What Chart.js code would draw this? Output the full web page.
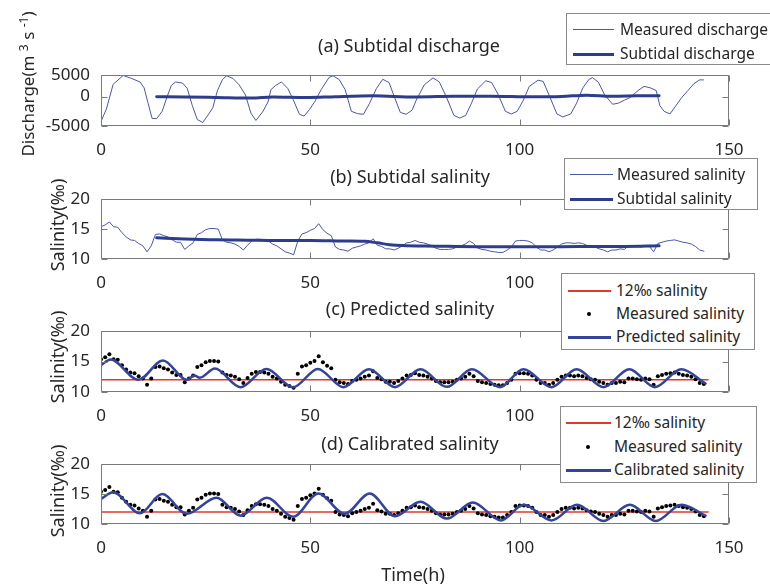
<!DOCTYPE html>
<html><head><meta charset="utf-8">
<script src="https://cdn.jsdelivr.net/npm/chart.js@4/dist/chart.umd.min.js"></script>
<style>
body{margin:0;background:#fff;width:770px;height:586px;overflow:hidden;position:relative;font-family:'Noto Sans',sans-serif;color:#262626}
canvas{position:absolute;left:0}
.t{position:absolute;white-space:nowrap;transform:translate(-50%,-50%);font-size:18px;line-height:1}
.yl{position:absolute;white-space:nowrap;transform:translate(-50%,-50%) rotate(-90deg);font-size:18px;line-height:1}
.yl sup{font-size:12px}
.lg{position:absolute;background:#fff;border:1px solid #8a8a8a;box-sizing:border-box;z-index:5}
.lg .tx{position:absolute;white-space:nowrap;font-size:15.5px;line-height:1;transform:translateY(-50%)}
.lg .ln{position:absolute}
.lg .dot{position:absolute;width:4px;height:4px;border-radius:50%;background:#000;transform:translate(-50%,-50%)}
</style>
</head><body>
<canvas id="ca" width="770" height="112" style="top:54px"></canvas>
<canvas id="cb" width="770" height="121" style="top:178px"></canvas>
<canvas id="cc" width="770" height="122" style="top:310px"></canvas>
<canvas id="cd" width="770" height="121" style="top:443px"></canvas>

<div class="t" style="left:409px;top:45px">(a) Subtidal discharge</div>
<div class="t" style="left:410px;top:176px">(b) Subtidal salinity</div>
<div class="t" style="left:410px;top:308px">(c) Predicted salinity</div>
<div class="t" style="left:410px;top:443px">(d) Calibrated salinity</div>

<div class="yl" style="left:27px;top:84px;font-size:17px">Discharge(m <sup>3</sup> s <sup>-1</sup>)</div>
<div class="yl" style="left:57px;top:225px">Salinity(‰)</div>
<div class="yl" style="left:57px;top:357px">Salinity(‰)</div>
<div class="yl" style="left:57px;top:491px">Salinity(‰)</div>
<div class="t" style="left:413px;top:574px">Time(h)</div>

<div class="lg" style="left:566px;top:13px;width:206px;height:52px">
  <div class="ln" style="left:6px;width:41px;top:15px;height:1px;background:#4a58a6"></div>
  <div class="tx" style="left:53px;top:16px">Measured discharge</div>
  <div class="ln" style="left:6px;width:41px;top:39px;height:3px;background:#2e3c8c"></div>
  <div class="tx" style="left:53px;top:40px">Subtidal discharge</div>
</div>
<div class="lg" style="left:564px;top:158px;width:194px;height:52px">
  <div class="ln" style="left:5px;width:43px;top:15px;height:1px;background:#4a58a6"></div>
  <div class="tx" style="left:52px;top:16px">Measured salinity</div>
  <div class="ln" style="left:5px;width:43px;top:39px;height:3px;background:#2e3c8c"></div>
  <div class="tx" style="left:52px;top:40px">Subtidal salinity</div>
</div>
<div class="lg" style="left:561px;top:273px;width:194px;height:77px">
  <div class="ln" style="left:6px;width:43px;top:16px;height:2px;background:#e0382c"></div>
  <div class="tx" style="left:54px;top:17px">12‰ salinity</div>
  <div class="dot" style="left:27px;top:40px"></div>
  <div class="tx" style="left:54px;top:40px">Measured salinity</div>
  <div class="ln" style="left:6px;width:43px;top:62px;height:3px;background:#34449a"></div>
  <div class="tx" style="left:54px;top:63px">Predicted salinity</div>
</div>
<div class="lg" style="left:560px;top:406px;width:197px;height:77px">
  <div class="ln" style="left:5px;width:45px;top:15px;height:2px;background:#e0382c"></div>
  <div class="tx" style="left:53px;top:16px">12‰ salinity</div>
  <div class="dot" style="left:27px;top:40px"></div>
  <div class="tx" style="left:53px;top:40px">Measured salinity</div>
  <div class="ln" style="left:5px;width:45px;top:62px;height:3px;background:#34449a"></div>
  <div class="tx" style="left:53px;top:63px">Calibrated salinity</div>
</div>

<script>
// ---------------- data ----------------
const xTickValues = [0, 50, 100, 150];
const dischargeTickValues = [-5000, 0, 3650];
const dischargeTickLabels = ['-5000', '0', '5000'];
const salinityTickValues = [10, 15, 20];

// measured discharge [time h, m3/s]
const measuredDischarge = [
 [0,-4200],[1.3,-2100],[2.9,2100],[5.3,3600],[7.3,3100],[9.3,2500],[10.3,1500],[11.2,-1000],[12.2,-3700],[13.3,-3750],
 [14.6,-2500],[15.8,0],[16.8,1900],[17.8,2500],[19.5,2300],[20.6,1400],[21.8,-1500],[23.0,-3900],[24.3,-4400],[25.6,-3100],
 [26.7,-1900],[27.8,1000],[29.0,2900],[30.0,3550],[31.5,3100],[33.0,2000],[34.5,300],[35.8,-2800],[37.0,-4050],[38.6,-2600],
 [39.9,-900],[40.6,1200],[41.7,1900],[43.1,2500],[44.6,1400],[45.9,-500],[47.4,-3000],[48.5,-3300],[49.8,-2200],[51.1,-800],
 [52.6,1200],[54.5,3300],[55.4,3550],[56.9,2900],[58.3,1200],[59.8,-2500],[61.3,-2900],[62.7,-3000],[64.1,-1200],[65.8,1400],
 [67.3,2950],[68.8,2400],[70.1,-100],[71.5,-2700],[72.9,-3000],[74.3,-2300],[75.3,-600],[77.2,2000],[79.3,3200],[80.8,2500],
 [82.4,100],[84.3,-3200],[85.7,-3650],[87.1,-3200],[88.5,-1100],[89.9,1300],[91.9,2700],[93.3,2400],[94.7,600],[96.6,-2500],
 [98.0,-2950],[99.4,-2500],[100.9,-600],[102.3,1750],[104.4,2800],[105.6,2600],[107.0,300],[108.9,-2950],[110.3,-3450],[112.2,-2950],
 [113.6,-1100],[115.1,1500],[116.5,2900],[117.4,3250],[118.8,2450],[120.3,300],[122.2,-1300],[123.6,-1100],[125.0,-600],[126.4,-150],
 [128.3,1050],[129.7,1750],[131.2,1500],[132.6,1050],[133.5,-1550],[134.5,-2500],[135.9,-2950],[137.3,-1550],[138.7,-150],[140.2,1050],
 [141.6,2200],[143.0,2850],[143.9,2850]
];
// subtidal discharge [time h, m3/s]
const subtidalDischarge = [
 [13.3,0],[20,-50],[27.5,-140],[36,-250],[41,-60],[49,-150],[56,0],[65,130],[75,-50],[84,50],[93,80],[103,-20],[110,30],[116,250],[122,60],[128,130],[133.3,170]
];
// measured salinity, hourly from 0 h to 144 h
const measuredSalinity = [
 15.4,15.7,16.2,15.4,15.3,14.4,13.7,13.2,13.1,12.6,
 12.2,11.2,12.2,14.1,14.2,13.9,13.7,13.2,12.8,12.8,
 11.6,12.2,12.7,14.1,14.4,14.9,15.1,15.1,15.0,13.2,
 12.8,12.7,12.5,12.1,11.5,12.3,13.0,13.3,13.3,13.2,
 13.0,12.5,12.2,11.7,11.2,11.0,10.7,13.0,14.2,14.4,
 14.8,15.1,15.9,14.9,14.3,13.9,12.0,11.6,11.5,11.3,
 11.8,12.0,12.2,12.5,12.7,13.4,12.3,12.1,11.7,11.7,
 11.5,11.8,12.2,12.7,12.8,13.1,12.8,12.7,12.5,12.2,
 11.8,11.6,11.6,11.6,11.7,12.0,12.2,12.5,13.0,12.6,
 11.8,11.6,11.5,11.3,11.2,11.1,11.1,11.5,12.0,13.0,
 13.1,13.1,13.0,12.7,12.0,11.5,11.5,11.2,11.5,12.0,
 12.5,12.7,12.7,12.6,12.7,12.6,12.3,12.1,12.0,11.7,
 11.5,11.2,11.5,11.5,11.7,11.6,12.2,12.2,12.1,12.0,
 12.2,12.1,11.2,12.6,12.8,13.0,13.1,13.2,13.0,12.8,
 12.7,12.5,12.1,11.5,11.3
];
// subtidal salinity [time h, ‰]
const subtidalSalinity = [
 [13.3,13.55],[20,13.35],[27.5,13.2],[35,13.15],[42,13.1],[50,13.1],[58,13.0],[63,12.95],[66,12.7],[69,12.4],
 [72,12.25],[80,12.15],[90,12.05],[100,12.05],[110,12.05],[118,12.1],[125,12.1],[133.3,12.2]
];
// predicted salinity turning points [time h, ‰]
const predictedSalinity = [
 [0,14.4],[2.3,15.35],[8.9,12.0],[14.8,15.2],[20.5,12.0],[22.3,12.7],[23.6,12.35],[27.2,13.85],[33.3,10.8],[39.5,13.8],
 [45.9,10.8],[51.8,13.8],[57.9,10.8],[64.0,13.75],[70.2,10.8],[76.3,13.75],[82.6,10.85],[88.6,13.75],[95.3,10.8],[100.9,13.75],
 [107.6,10.8],[113.6,13.75],[120.0,10.8],[126.2,13.75],[132.3,10.8],[138.6,13.75],[144.4,11.4]
];
// calibrated salinity turning points [time h, ‰]
const calibratedSalinity = [
 [0,14.2],[2.9,15.3],[9.3,11.8],[14.6,15.0],[20.5,11.7],[27.6,14.4],[33.3,11.4],[39.6,14.4],[45.9,11.2],[51.9,15.1],
 [58.2,11.7],[64.2,15.1],[70.2,11.3],[76.3,13.7],[82.6,10.9],[88.8,13.6],[95.5,10.6],[101.0,13.2],[107.6,10.6],[113.7,13.2],
 [120.0,10.5],[126.3,13.2],[132.5,10.5],[138.7,13.2],[144.4,11.4]
];
// 12 ‰ threshold line
const thresholdSalinity = [[0,12],[145,12]];

// ---------------- helpers ----------------
const pts = arr => arr.map(p => ({x: p[0], y: p[1]}));
const hourly = arr => arr.map((v, i) => ({x: i, y: v}));
const FONT = {family: "'Noto Sans', sans-serif", size: 17};
const TXT = '#262626';

const framePlugin = {
  id: 'frame',
  afterDatasetsDraw(chart) {
    const {ctx, chartArea: a, scales} = chart;
    const L = Math.round(a.left) + 0.5, R = Math.round(a.right) - 0.5;
    const T = Math.round(a.top) + 0.5, B = Math.round(a.bottom) - 0.5;
    ctx.save();
    ctx.strokeStyle = '#7a7a7a';
    ctx.lineWidth = 1;
    ctx.beginPath();
    ctx.rect(L, T, R - L, B - T);
    const tl = 6;
    scales.x.ticks.forEach(t => {
      const px = Math.round(scales.x.getPixelForValue(t.value)) + 0.5;
      ctx.moveTo(px, B); ctx.lineTo(px, B - tl);
      ctx.moveTo(px, T); ctx.lineTo(px, T + tl);
    });
    scales.y.ticks.forEach(t => {
      const py = Math.round(scales.y.getPixelForValue(t.value)) + 0.5;
      ctx.moveTo(L, py); ctx.lineTo(L + tl, py);
      ctx.moveTo(R, py); ctx.lineTo(R - tl, py);
    });
    ctx.stroke();
    ctx.restore();
  }
};

function makeChart(id, datasets, yMin, yMax, yTicks, yLabels) {
  return new Chart(document.getElementById(id), {
    type: 'line',
    data: {datasets},
    plugins: [framePlugin],
    options: {
      responsive: false,
      animation: false,
      events: [],
      devicePixelRatio: 1,
      layout: {padding: {top: 14, right: 41, left: 0, bottom: 0}},
      plugins: {legend: {display: false}, tooltip: {enabled: false}},
      scales: {
        x: {
          type: 'linear', min: 0, max: 150,
          afterBuildTicks: s => { s.ticks = xTickValues.map(v => ({value: v})); },
          afterFit: s => { s.height = 40; },
          grid: {display: false, drawTicks: false},
          border: {display: false},
          ticks: {font: FONT, color: TXT, padding: 14, maxRotation: 0, autoSkip: false}
        },
        y: {
          type: 'linear', min: yMin, max: yMax,
          afterBuildTicks: s => { s.ticks = yTicks.map(v => ({value: v})); },
          afterFit: s => { s.width = 101; },
          grid: {display: false, drawTicks: false},
          border: {display: false},
          ticks: {font: FONT, color: TXT, padding: 11, autoSkip: false,
                  callback: (v, i) => yLabels ? yLabels[i] : String(v)}
        }
      }
    }
  });
}

const BLUE_THIN = '#4a58a6', BLUE_THICK = '#2e3c8c', BLUE_MODEL = '#34449a', RED = '#e0382c';
const lineDs = (label, data, color, w, extra) => Object.assign({
  label, data, borderColor: color, backgroundColor: color, borderWidth: w,
  pointRadius: 0, fill: false, tension: 0, borderJoinStyle: 'round', borderCapStyle: 'round'
}, extra || {});
const dotDs = (label, data) => ({
  label, data, showLine: false, pointRadius: 2, pointBorderWidth: 0,
  pointBackgroundColor: '#000', borderColor: '#000', backgroundColor: '#000', order: 1
});

makeChart('ca', [
  lineDs('Subtidal discharge', pts(subtidalDischarge), BLUE_THICK, 3, {order: 0, cubicInterpolationMode: 'monotone'}),
  lineDs('Measured discharge', pts(measuredDischarge), BLUE_THIN, 1, {order: 1})
], -5000, 3650, dischargeTickValues, dischargeTickLabels);

makeChart('cb', [
  lineDs('Subtidal salinity', pts(subtidalSalinity), BLUE_THICK, 3, {order: 0, cubicInterpolationMode: 'monotone'}),
  lineDs('Measured salinity', hourly(measuredSalinity), BLUE_THIN, 1, {order: 1})
], 10, 20, salinityTickValues, null);

makeChart('cc', [
  lineDs('Predicted salinity', pts(predictedSalinity), BLUE_MODEL, 2.5, {order: 0, cubicInterpolationMode: 'monotone'}),
  dotDs('Measured salinity', hourly(measuredSalinity)),
  lineDs('12‰ salinity', pts(thresholdSalinity), RED, 1.5, {order: 2})
], 10, 20, salinityTickValues, null);

makeChart('cd', [
  lineDs('Calibrated salinity', pts(calibratedSalinity), BLUE_MODEL, 2.5, {order: 0, cubicInterpolationMode: 'monotone'}),
  dotDs('Measured salinity', hourly(measuredSalinity)),
  lineDs('12‰ salinity', pts(thresholdSalinity), RED, 1.5, {order: 2})
], 10, 20, salinityTickValues, null);
</script>
</body></html>
